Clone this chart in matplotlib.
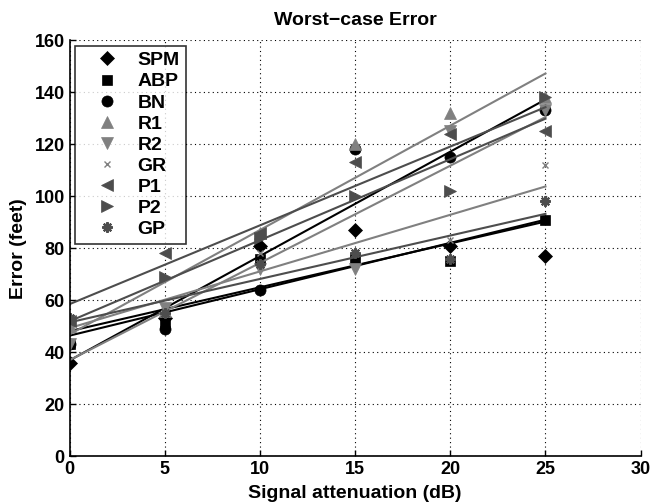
#!/usr/bin/env python

import numpy as np
import matplotlib
matplotlib.use("Agg")
import matplotlib.pyplot as plt

# signal attenuation (dB)
attenuation = [0, 5, 10, 15, 20, 25]

# worst-case error (feet) per method
spm = [36, 53, 81, 87, 81, 77]
abp = [43, 51, 76, 76, 75, 91]
bn = [43, 49, 64, 118, 115, 133]
r1 = [50, 56, 86, 120, 132, 138]
r2 = [43, 57, 72, 72, 125, 133]
gr = [52, 56, 78, 78, 83, 112]
p1 = [52, 78, 86, 113, 124, 125]
p2 = [52, 69, 84, 100, 102, 138]
gp = [53, 55, 74, 78, 76, 98]

names = ["SPM", "ABP", "BN", "R1", "R2", "GR", "P1", "P2", "GP"]

def main(plotFile: str):
    plt.rcParams["font.family"] = ["Liberation Sans", "DejaVu Sans"]
    plt.rcParams["font.weight"] = "bold"
    series = [spm, abp, bn, r1, r2, gr, p1, p2, gp]
    # (8, 2, 0) is an asterisk made of strokes, like MATLAB's '*'
    markers = ["D", "s", "o", "^", "v", "x", "<", ">", (8, 2, 0)]
    sizes = [7, 6.5, 8, 8.5, 8.5, 5, 8.5, 8.5, 7.5]
    edge = [0.5, 0.5, 0.5, 0.5, 0.5, 1.0, 0.5, 0.5, 1.6]
    black, light, dark = "#000000", "#808080", "#4d4d4d"
    colors = [black, black, black, light, light, light, dark, dark, dark]

    fig = plt.figure(figsize=(6.52, 5.04), dpi=100)
    ax = fig.add_axes([0.1066, 0.0946, 0.876, 0.826])
    x = np.array(attenuation)
    for name, y, m, ms, mew, c in zip(names, series, markers, sizes, edge, colors):
        ax.plot(x, y, linestyle="none", marker=m, markersize=ms, color=c,
                markeredgewidth=mew, label=name)
        k, b = np.polyfit(x, y, 1)
        ax.plot(x[[0, -1]], k * x[[0, -1]] + b, color=c, linewidth=1.5)

    ax.set_xlim(0, 30)
    ax.set_ylim(0, 160)
    ax.set_xticks(range(0, 31, 5))
    ax.set_yticks(range(0, 161, 20))
    ax.grid(True, linestyle=(0, (1, 3)), color="black", linewidth=0.8)
    ax.tick_params(direction="in", labelsize=13, length=4, width=1)
    for lbl in ax.get_xticklabels() + ax.get_yticklabels():
        lbl.set_fontweight("bold")
    ax.spines["top"].set_visible(False)
    ax.spines["right"].set_visible(False)
    ax.spines["left"].set_linewidth(1.2)
    ax.spines["bottom"].set_linewidth(1.2)

    ax.set_xlabel("Signal attenuation (dB)", fontsize=14, fontweight="bold", labelpad=5)
    ax.set_ylabel("Error (feet)", fontsize=14, fontweight="bold", labelpad=5)
    ax.set_title("Worst\u2212case Error", fontsize=14, fontweight="bold", pad=11)

    leg = ax.legend(loc="upper left", fancybox=False, edgecolor="black",
                    prop={"size": 14, "weight": "bold"}, handlelength=2.7,
                    handletextpad=0.2, labelspacing=0.18, borderpad=0.3,
                    bbox_to_anchor=(0.0, 1.0), borderaxespad=0.3)
    leg.get_frame().set_linewidth(1.2)
    fig.savefig(plotFile)
    return

if __name__ == "__main__":
    main("out.png")
